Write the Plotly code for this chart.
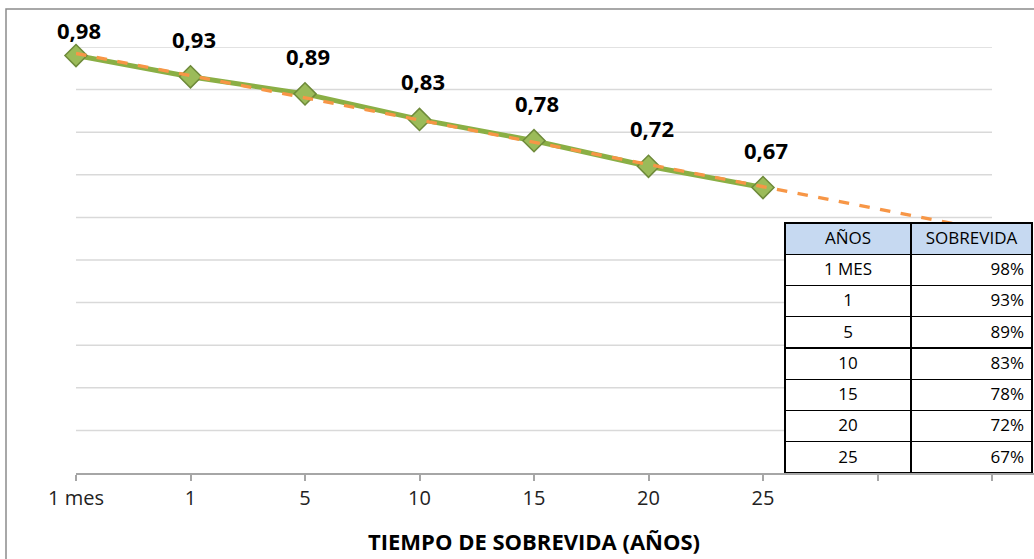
import numpy as np
import plotly.graph_objects as go

# ---- data ----
categories = ["1 mes", "1", "5", "10", "15", "20", "25"]
survival = [0.98, 0.93, 0.89, 0.83, 0.78, 0.72, 0.67]
table_years = ["1 MES", "1", "5", "10", "15", "20", "25"]
forecast_periods = 2
x_title = "TIEMPO DE SOBREVIDA (AÑOS)"
table_header = ["AÑOS", "SOBREVIDA"]

# ---- layout constants (pixels) ----
W, H = 1034, 559
L, T, B = 76, 47, 86
plot_w = W - L           # plot area extends to right edge
plot_h = H - T - B
n_total = len(categories) + forecast_periods      # 9 positions
span_px = 916                                       # pixels for 8 category steps
x_max = (n_total - 1) * plot_w / span_px

xi = np.arange(len(categories))
x_all = np.arange(n_total)
coef = np.polyfit(xi, survival, 1)
trend = np.polyval(coef, x_all)

FONT = "Open Sans"
green = "#8AAF45"

fig = go.Figure()

# gridlines (end at last category position)
for g in np.arange(1, 11) / 10:
    fig.add_shape(type="line", xref="x", yref="y", x0=0, x1=n_total - 1, y0=g, y1=g,
                  line=dict(color="#D9D9D9", width=1.5), layer="below")

# main series
fig.add_trace(go.Scatter(
    x=xi, y=survival, mode="lines+markers",
    line=dict(color=green, width=5),
    marker=dict(symbol="diamond", size=17, color="#9BBB59",
                line=dict(color="#6E8A3A", width=1.5)),
    hoverinfo="skip", showlegend=False, cliponaxis=False))

# linear trendline
fig.add_trace(go.Scatter(
    x=x_all, y=trend, mode="lines",
    line=dict(color="#F79646", width=3.5, dash="dash"),
    hoverinfo="skip", showlegend=False, cliponaxis=False))

# data labels
for i, v in enumerate(survival):
    fig.add_annotation(x=i, y=v, xref="x", yref="y",
                       text=f"{v:.2f}".replace(".", ","), showarrow=False,
                       yshift=26 if i == 0 else 38, xshift=3,
                       font=dict(family=FONT, size=22, color="#000000", weight="bold"))

# x axis title as annotation centred on the category span
fig.add_annotation(x=(n_total - 1) / 2, y=0, xref="x", yref="y",
                   text=f"<b>{x_title}</b>", showarrow=False, yshift=-68,
                   font=dict(family=FONT, size=22, color="#000000"))

# table
tx0 = (785 - L) / plot_w
tx1 = (1032 - L) / plot_w
ty1 = (473 - 223) / plot_h
fig.add_trace(go.Table(
    domain=dict(x=[tx0, tx1], y=[0, ty1]),
    columnwidth=[126, 121],
    header=dict(values=table_header, fill_color="#C6D9F1",
                line=dict(color="#000000", width=1.2), align="center",
                height=31.25, font=dict(family=FONT, size=17, color="#000000")),
    cells=dict(values=[table_years, [f"{round(v * 100)}%" for v in survival]],
               fill_color="#FFFFFF", line=dict(color="#000000", width=1.2),
               align=["center", "right"], height=31.25,
               font=dict(family=FONT, size=17, color="#000000"))))

# outer frame
fig.add_shape(type="rect", xref="paper", yref="paper",
              x0=(6 - L) / plot_w, x1=(W + 20 - L) / plot_w,
              y0=-(H + 20 - (H - B)) / plot_h, y1=(H - B - 9) / plot_h,
              line=dict(color="#8C8C8C", width=1.5), fillcolor="rgba(0,0,0,0)")

fig.update_xaxes(range=[0, x_max], tickvals=list(x_all),
                 ticktext=categories + [""] * forecast_periods,
                 showgrid=False, zeroline=False, showline=True,
                 linecolor="#A6A6A6", linewidth=1.5,
                 ticks="outside", ticklen=6, tickcolor="#A6A6A6", tickwidth=1.5,
                 tickfont=dict(family=FONT, size=20, color="#222222"))
fig.update_yaxes(range=[0, 1], visible=False, showgrid=False, zeroline=False)

fig.update_layout(width=W, height=H, margin=dict(l=L, r=0, t=T, b=B),
                  plot_bgcolor="#FFFFFF", paper_bgcolor="#FFFFFF")

fig.write_html("out.html")
